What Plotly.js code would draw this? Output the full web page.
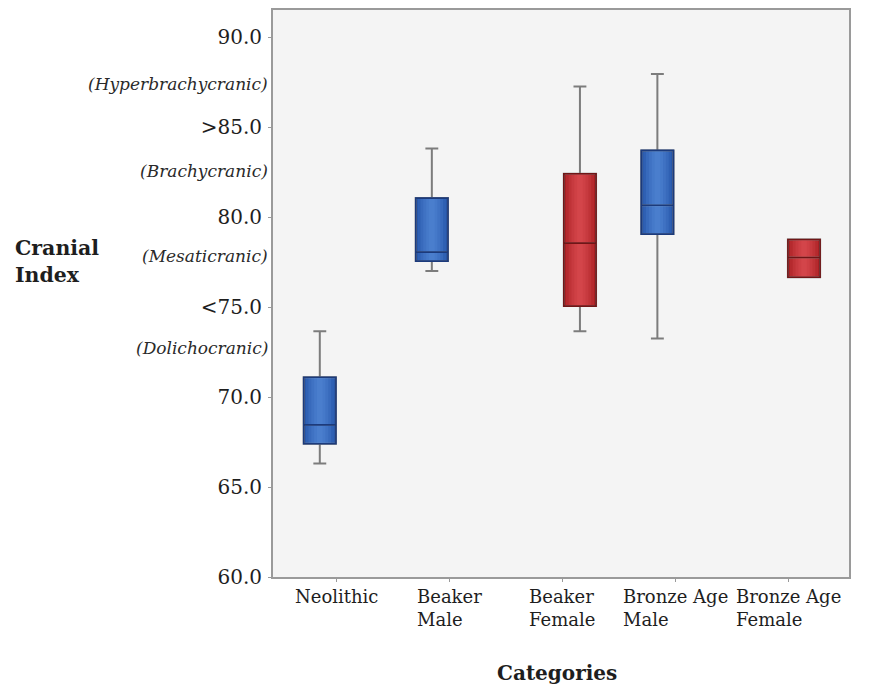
<!DOCTYPE html>
<html>
<head>
<meta charset="utf-8">
<script src="https://cdn.plot.ly/plotly-3.0.1.min.js"></script>
<style>html,body{margin:0;padding:0;background:#fff;}#chart{width:880px;height:690px;}</style>
</head>
<body>
<div id="chart"></div>
<script>
// ---- data ----
var categories = ['Neolithic', 'Beaker Male', 'Beaker Female', 'Bronze Age Male', 'Bronze Age Female'];
var tickLabels = ['Neolithic', 'Beaker<br>Male', 'Beaker<br>Female', 'Bronze Age<br>Male', 'Bronze Age<br>Female'];
var lowerWhisker = [66.3, 77.0, 73.65, 73.25, 76.65];
var q1Values     = [67.4, 77.55, 75.05, 79.05, 76.65];
var medianValues = [68.45, 78.05, 78.55, 80.65, 77.75];
var q3Values     = [71.1, 81.05, 82.4, 83.7, 78.75];
var upperWhisker = [73.65, 83.8, 87.25, 87.95, 78.75];
var groupColour  = ['blue', 'blue', 'red', 'blue', 'red'];

var yTickVals = [60, 65, 70, 75, 80, 85, 90];
var yTickText = ['60.0', '65.0', '70.0', '<75.0', '80.0', '>85.0', '90.0'];
var classNames = ['(Hyperbrachycranic)', '(Brachycranic)', '(Mesaticranic)', '(Dolichocranic)'];
var classPos   = [87.4, 82.55, 77.85, 72.75];

// ---- layout helpers (positions/styles) ----
var boxOffset = [-0.146, -0.155, 0.155, -0.16, 0.137]; // boxes sit off their labels in the original
var palette = {
  blue: {fill: '#2353a8', light: 'rgba(95,150,225,0.20)', edge: '#1b3a7c'},
  red:  {fill: '#a81e22', light: 'rgba(235,90,95,0.20)',  edge: '#701516'}
};
var shadeWidths = [0.25, 0.2, 0.15, 0.1, 0.05];
var FONT = 'DejaVu Serif, serif';

var traces = [];
categories.forEach(function (c, i) {
  var pal = palette[groupColour[i]];
  var x = [i + boxOffset[i]];
  var base = {
    type: 'box', name: c, x: x,
    q1: [q1Values[i]], median: [medianValues[i]], q3: [q3Values[i]],
    showlegend: false, hoverinfo: 'skip'
  };
  // whiskers + solid fill
  traces.push(Object.assign({}, base, {
    lowerfence: [lowerWhisker[i]], upperfence: [upperWhisker[i]],
    width: 0.285, whiskerwidth: 0.4,
    fillcolor: pal.fill, line: {color: '#7c7c7c', width: 2}
  }));
  // soft lighter centre (stacked translucent layers)
  shadeWidths.forEach(function (w) {
    traces.push(Object.assign({}, base, {
      lowerfence: [q1Values[i]], upperfence: [q3Values[i]],
      width: w, whiskerwidth: 0,
      fillcolor: pal.light, line: {color: 'rgba(0,0,0,0)', width: 0}
    }));
  });
  // outline and median
  traces.push(Object.assign({}, base, {
    lowerfence: [q1Values[i]], upperfence: [q3Values[i]],
    width: 0.285, whiskerwidth: 0,
    fillcolor: 'rgba(0,0,0,0)', line: {color: pal.edge, width: 1.6}
  }));
});

var annotations = [];
classNames.forEach(function (t, k) {
  annotations.push({
    xref: 'paper', yref: 'y', x: 0, y: classPos[k], xanchor: 'right', yanchor: 'middle',
    xshift: -3, text: '<i>' + t + '</i>', showarrow: false,
    font: {family: FONT, size: 17, color: '#2a2a2a'}
  });
});
tickLabels.forEach(function (t, i) {
  annotations.push({
    xref: 'x', yref: 'paper', x: i, y: 0, xanchor: 'center', yanchor: 'top', align: 'left',
    yshift: -7, text: t, showarrow: false,
    font: {family: FONT, size: 18, color: '#1e1e1e'}
  });
});
annotations.push({
  xref: 'paper', yref: 'paper', x: 0.493, y: 0, xanchor: 'center', yanchor: 'middle',
  yshift: -96, text: '<b>Categories</b>', showarrow: false,
  font: {family: FONT, size: 20, color: '#1e1e1e'}
});
annotations.push({
  xref: 'paper', yref: 'y', x: -0.452, y: 77.55, xanchor: 'left', yanchor: 'middle', align: 'left',
  text: '<b>Cranial<br>Index</b>', showarrow: false,
  font: {family: FONT, size: 20.5, color: '#1e1e1e'}
});

var layout = {
  width: 880, height: 690,
  margin: {l: 273, r: 31, t: 10, b: 112.5, pad: 0},
  paper_bgcolor: '#ffffff', plot_bgcolor: '#f4f4f4',
  showlegend: false, boxmode: 'overlay',
  xaxis: {
    range: [-0.56, 4.535], tickvals: [0, 1, 2, 3, 4], ticktext: ['', '', '', '', ''],
    ticks: 'outside', ticklen: 3, tickcolor: '#9a9a9a', tickwidth: 1,
    showgrid: false, zeroline: false, showline: true, mirror: true,
    linecolor: '#9a9a9a', linewidth: 2
  },
  yaxis: {
    range: [60, 91.5], tickvals: yTickVals, ticktext: yTickText,
    ticks: 'outside', ticklen: 3, tickcolor: '#9a9a9a', tickwidth: 1,
    tickfont: {family: FONT, size: 20, color: '#1e1e1e'}, ticklabelstandoff: 2,
    showgrid: false, zeroline: false, showline: true, mirror: true,
    linecolor: '#9a9a9a', linewidth: 2
  },
  annotations: annotations
};

Plotly.newPlot('chart', traces, layout, {displayModeBar: false, staticPlot: true});
</script>
</body>
</html>
